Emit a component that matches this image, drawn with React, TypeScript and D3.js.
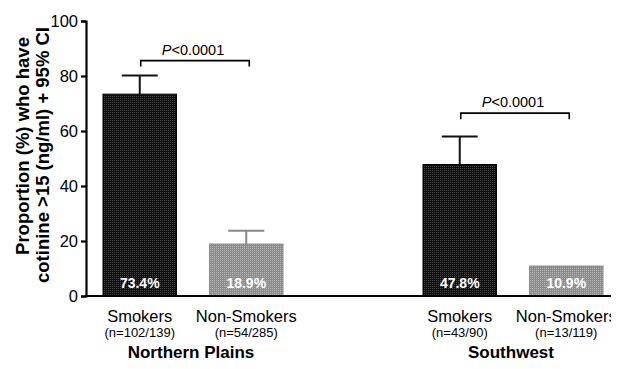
import React, { useEffect, useRef } from "react";
import * as d3 from "d3";

const regions = ["Northern Plains", "Southwest"];
const groups = ["Smokers", "Non-Smokers"];
const proportions = [73.4, 18.9, 47.8, 10.9];
const ciUpper = [80.2, 23.7, 58.0, null];
const counts = ["(n=102/139)", "(n=54/285)", "(n=43/90)", "(n=13/119)"];
const pLabels = ["<0.0001", "<0.0001"];
const bracketLevels = [85.6, 66.5];
const yTicks = [0, 20, 40, 60, 80, 100];

const font = "Arial, 'Liberation Sans', sans-serif";

export default function App() {
  const ref = useRef<SVGSVGElement>(null);

  useEffect(() => {
    const svg = d3.select(ref.current);
    svg.selectAll("*").remove();

    const y = d3.scaleLinear().domain([0, 100]).range([296, 21]);
    const x0 = d3.scaleBand().domain(regions).range([103, 603]).paddingInner(0.4375).paddingOuter(0);
    const x1 = d3.scaleBand().domain(groups).range([0, x0.bandwidth()]).paddingInner(0.31);

    const defs = svg.append("defs");
    const mkPattern = (id: string, base: string, dot: string) => {
      const p = defs.append("pattern").attr("id", id).attr("width", 2).attr("height", 2)
        .attr("patternUnits", "userSpaceOnUse");
      p.append("rect").attr("width", 2).attr("height", 2).attr("fill", base);
      p.append("rect").attr("width", 1).attr("height", 1).attr("fill", dot);
    };
    mkPattern("darkDots", "#0d0d0d", "#4a4a4a");
    mkPattern("grayDots", "#8c8c8c", "#b8b8b8");

    const rows = proportions.map((v, i) => ({
      region: regions[Math.floor(i / 2)],
      group: groups[i % 2],
      value: v,
      upper: ciUpper[i],
      n: counts[i],
    }));
    const cx = (d: any) => (x0(d.region) as number) + (x1(d.group) as number) + x1.bandwidth() / 2;

    // error bars (drawn behind bars)
    const eb = rows.filter((d) => d.upper != null);
    svg.selectAll(".ebv").data(eb).join("line")
      .attr("x1", cx).attr("x2", cx)
      .attr("y1", (d) => y(d.value)).attr("y2", (d) => y(d.upper as number))
      .attr("stroke", (d) => (d.group === "Smokers" ? "#111" : "#888"))
      .attr("stroke-width", 2);
    svg.selectAll(".ebc").data(eb).join("line")
      .attr("x1", (d) => cx(d) - 18).attr("x2", (d) => cx(d) + 18)
      .attr("y1", (d) => y(d.upper as number)).attr("y2", (d) => y(d.upper as number))
      .attr("stroke", (d) => (d.group === "Smokers" ? "#111" : "#888"))
      .attr("stroke-width", 2);

    // bars
    svg.selectAll(".bar").data(rows).join("rect")
      .attr("x", (d) => (x0(d.region) as number) + (x1(d.group) as number))
      .attr("y", (d) => y(d.value))
      .attr("width", x1.bandwidth())
      .attr("height", (d) => y(0) - y(d.value))
      .attr("fill", (d) => (d.group === "Smokers" ? "url(#darkDots)" : "url(#grayDots)"))
      .attr("stroke", (d) => (d.group === "Smokers" ? "#000" : "#8a8a8a"))
      .attr("stroke-width", 1);

    svg.selectAll(".pct").data(rows).join("text")
      .attr("x", cx).attr("y", 288)
      .attr("text-anchor", "middle")
      .attr("font-family", font).attr("font-size", 14).attr("font-weight", "bold")
      .attr("fill", "#fff")
      .text((d) => `${d.value.toFixed(1)}%`);

    // axes
    const yAxis = svg.append("g").attr("transform", "translate(86,0)")
      .call(d3.axisLeft(y).tickValues(yTicks).tickSize(5).tickPadding(3));
    yAxis.select(".domain").attr("stroke", "#000").attr("stroke-width", 2.2);
    yAxis.selectAll(".tick line").attr("stroke", "#000").attr("stroke-width", 2.2);
    yAxis.selectAll(".tick text").attr("font-family", font).attr("font-size", 16.5).attr("fill", "#000");

    svg.append("line").attr("x1", 85).attr("x2", 612).attr("y1", 296).attr("y2", 296)
      .attr("stroke", "#000").attr("stroke-width", 2.2);

    // y title
    const title = svg.append("g").attr("font-family", font).attr("font-size", 18.5)
      .attr("font-weight", "bold").attr("fill", "#000").attr("text-anchor", "middle");
    title.append("text").attr("transform", "translate(29,146) rotate(-90)").text("Proportion (%) who have");
    title.append("text").attr("transform", "translate(49,155) rotate(-90)").text("cotinine >15 (ng/ml) + 95% CI");

    // category labels
    svg.selectAll(".cat").data(rows).join("text")
      .attr("x", cx).attr("y", 322).attr("text-anchor", "middle")
      .attr("font-family", font).attr("font-size", 16.5).attr("fill", "#000")
      .text((d) => d.group);
    svg.selectAll(".cnt").data(rows).join("text")
      .attr("x", cx).attr("y", 337).attr("text-anchor", "middle")
      .attr("font-family", font).attr("font-size", 13).attr("fill", "#000")
      .text((d) => d.n);
    svg.selectAll(".reg").data(regions).join("text")
      .attr("x", (d) => (x0(d) as number) + x0.bandwidth() / 2 - 2).attr("y", 358)
      .attr("text-anchor", "middle")
      .attr("font-family", font).attr("font-size", 17).attr("font-weight", "bold").attr("fill", "#000")
      .text((d) => d);

    // significance brackets
    regions.forEach((r, i) => {
      const xa = (x0(r) as number) + (x1("Smokers") as number) + x1.bandwidth() / 2 + 1;
      const xb = (x0(r) as number) + (x1("Non-Smokers") as number) + x1.bandwidth() / 2 + 3;
      const yb = y(bracketLevels[i]);
      svg.append("path")
        .attr("d", `M${xa},${yb + 6}V${yb}H${xb}V${yb + 6}`)
        .attr("fill", "none").attr("stroke", "#000").attr("stroke-width", 1.6);
      const t = svg.append("text").attr("x", (xa + xb) / 2 - 2).attr("y", yb - 6)
        .attr("text-anchor", "middle").attr("font-family", font).attr("font-size", 14.5).attr("fill", "#000");
      t.append("tspan").attr("font-style", "italic").text("P");
      t.append("tspan").text(pLabels[i]);
    });
  }, []);

  return (
    <div style={{ margin: -8 }}>
      <svg ref={ref} width={619} height={369} style={{ display: "block", background: "#fff" }} />
    </div>
  );
}
